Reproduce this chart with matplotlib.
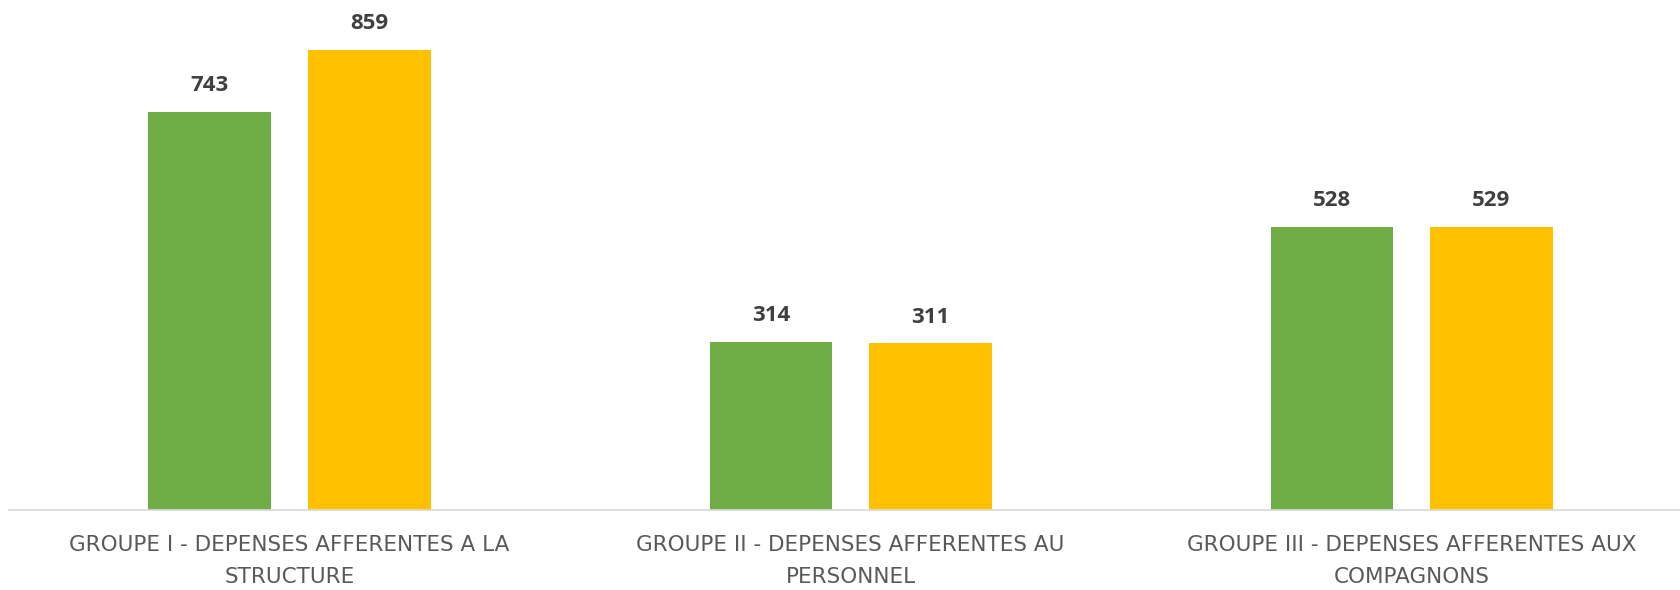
import matplotlib
matplotlib.use("Agg")
import matplotlib.pyplot as plt
import numpy as np

categories = ["GROUPE I - DEPENSES AFFERENTES A LA\nSTRUCTURE",
              "GROUPE II - DEPENSES AFFERENTES AU\nPERSONNEL",
              "GROUPE III - DEPENSES AFFERENTES AUX\nCOMPAGNONS"]
series_a = [743, 314, 528]
series_b = [859, 311, 529]

W, H = 1681, 590
fig = plt.figure(figsize=(W/100, H/100), dpi=100)
ax = fig.add_axes([9/W, 80/H, (W-9)/W, 510/H])

x = np.arange(len(categories))
bw = 0.219
off = 0.142
b1 = ax.bar(x - off, series_a, bw, color="#70AD47")
b2 = ax.bar(x + off, series_b, bw, color="#FFC000")

for bars in (b1, b2):
    for r in bars:
        ax.annotate(f"{int(r.get_height())}", (r.get_x() + r.get_width()/2, r.get_height()),
                    xytext=(0, 19), textcoords="offset points", ha="center", va="center",
                    fontsize=16, fontweight="bold", color="#404040", family="Open Sans")

ax.set_xlim(-0.5, 2.48)
ax.set_ylim(0, 952)
for s in ("top", "right", "left"):
    ax.spines[s].set_visible(False)
ax.spines["bottom"].set_color("#D9D9D9")
ax.spines["bottom"].set_linewidth(1.2)
ax.set_yticks([])
ax.set_xticks(x)
ax.set_xticklabels(categories, fontsize=15.5, color="#595959", family="DejaVu Sans", linespacing=1.75)
ax.tick_params(axis="x", length=0, pad=18)

fig.savefig("out.png", dpi=100)
